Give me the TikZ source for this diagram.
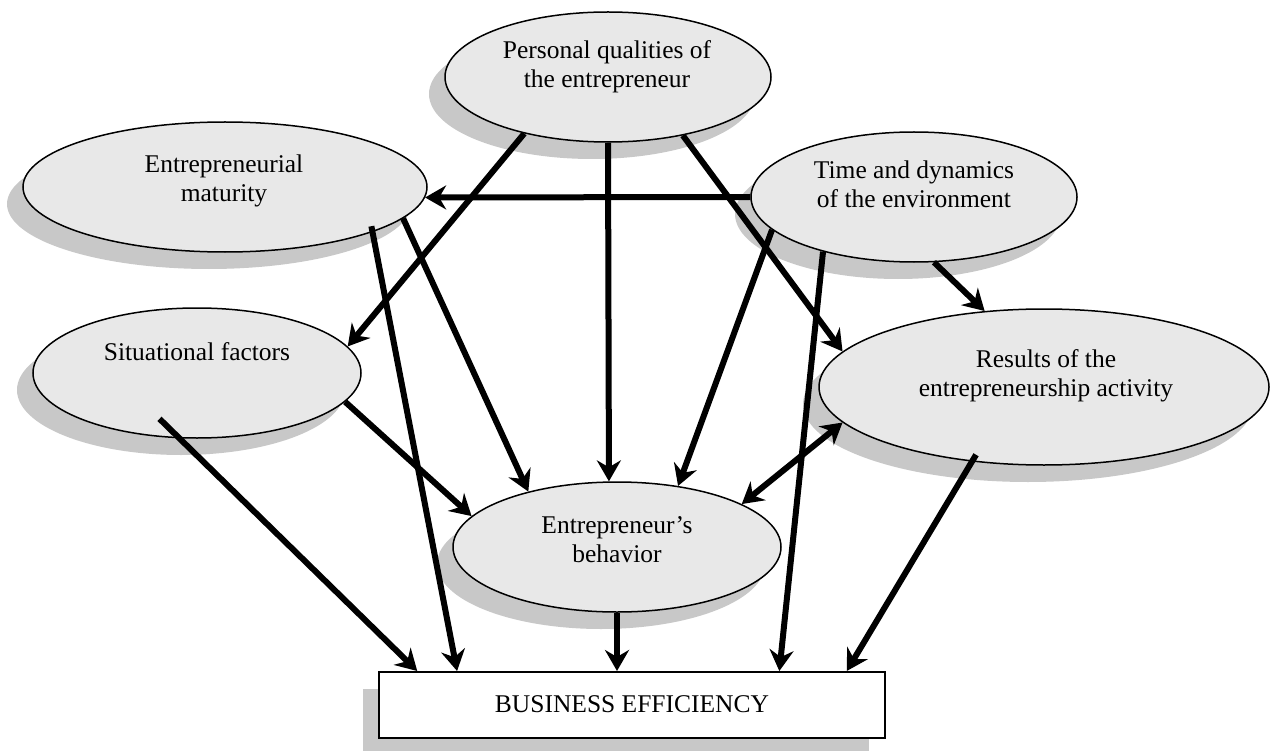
\documentclass[tikz,border=0pt]{standalone}
\usepackage{fontspec}
\setmainfont{Liberation Serif}
\usetikzlibrary{shapes.geometric,shadows,arrows.meta}
\definecolor{ellfill}{RGB}{232,232,232}
\definecolor{shadowgray}{RGB}{200,200,200}
\tikzset{
  shad/.style={drop shadow={shadow xshift=-16pt, shadow yshift=-17pt, fill=shadowgray, opacity=1}},
  oval/.style={ellipse, draw=black, line width=1.5pt, fill=ellfill, inner sep=0pt, shad},
  box/.style={rectangle, draw=black, line width=2pt, fill=white, inner sep=0pt, shad},
  lbl/.style={font=\fontsize{25.5}{29}\selectfont, align=center, anchor=base, inner sep=0pt},
  arr/.style={line width=6pt, -{Stealth[length=21pt,width=24pt,inset=7pt]}},
  darr/.style={line width=6pt, {Stealth[length=21pt,width=24pt,inset=7pt]}-{Stealth[length=21pt,width=24pt,inset=7pt]}},
}
\begin{document}
\begin{tikzpicture}[x=1pt,y=-1pt]
\useasboundingbox (0,0) rectangle (1273,751);
% nodes
\node[oval, minimum width=326pt, minimum height=130pt] (pq) at (608,77) {};
\node[oval, minimum width=404pt, minimum height=130pt] (em) at (225,187) {};
\node[oval, minimum width=326pt, minimum height=130pt] (td) at (914,197) {};
\node[oval, minimum width=328pt, minimum height=130pt] (sf) at (197,373) {};
\node[oval, minimum width=450pt, minimum height=156pt] (re) at (1044,387) {};
\node[oval, minimum width=328pt, minimum height=130pt] (eb) at (617,547) {};
\node[box, minimum width=506pt, minimum height=66pt] (be) at (632,705) {};
% labels (anchor = baseline of the last line)
\node[lbl] (pqt) at (607,88) {Personal qualities of\\the entrepreneur};
\node[lbl] (emt) at (224,202) {Entrepreneurial\\maturity};
\node[lbl] (tdt) at (914,208) {Time and dynamics\\of the environment};
\node[lbl] (sft) at (197,360) {Situational factors};
\node[lbl] (ret) at (1046,396) {Results of the\\entrepreneurship activity};
\node[lbl] (ebt) at (617,562) {Entrepreneur’s\\behavior};
\node[lbl] (bet) at (632,712) {BUSINESS EFFICIENCY};
% connectors
\draw[arr] (pq.-146.9) -- (sf.10.9);
\draw[arr] (pq.-90) -- (eb.97);
\draw[arr] (pq.-38) -- (re.170.3);
\draw[arr] (td.180) -- (em.-3);
\draw[arr] (em.-10.8) -- (eb.148.2);
\draw[arr, shorten <=-6pt] (em.-17) -- (be.169.7);
\draw[arr] (sf.-11.5) -- (eb.168.6);
\draw[arr, shorten <=-28pt] (sf.-105.5) -- (be.171.4);
\draw[arr] (td.-167.6) -- (eb.45);
\draw[arr] (td.-149.7) -- (be.13);
\draw[arr] (td.-73.7) -- (re.128.9);
\draw[darr] (eb.19.7) -- (re.-170.1);
\draw[arr, shorten <=-8pt] (re.-134.6) -- (be.9.4);
\draw[arr] (eb.south) -- (eb.south |- be.north);
\end{tikzpicture}
\end{document}
